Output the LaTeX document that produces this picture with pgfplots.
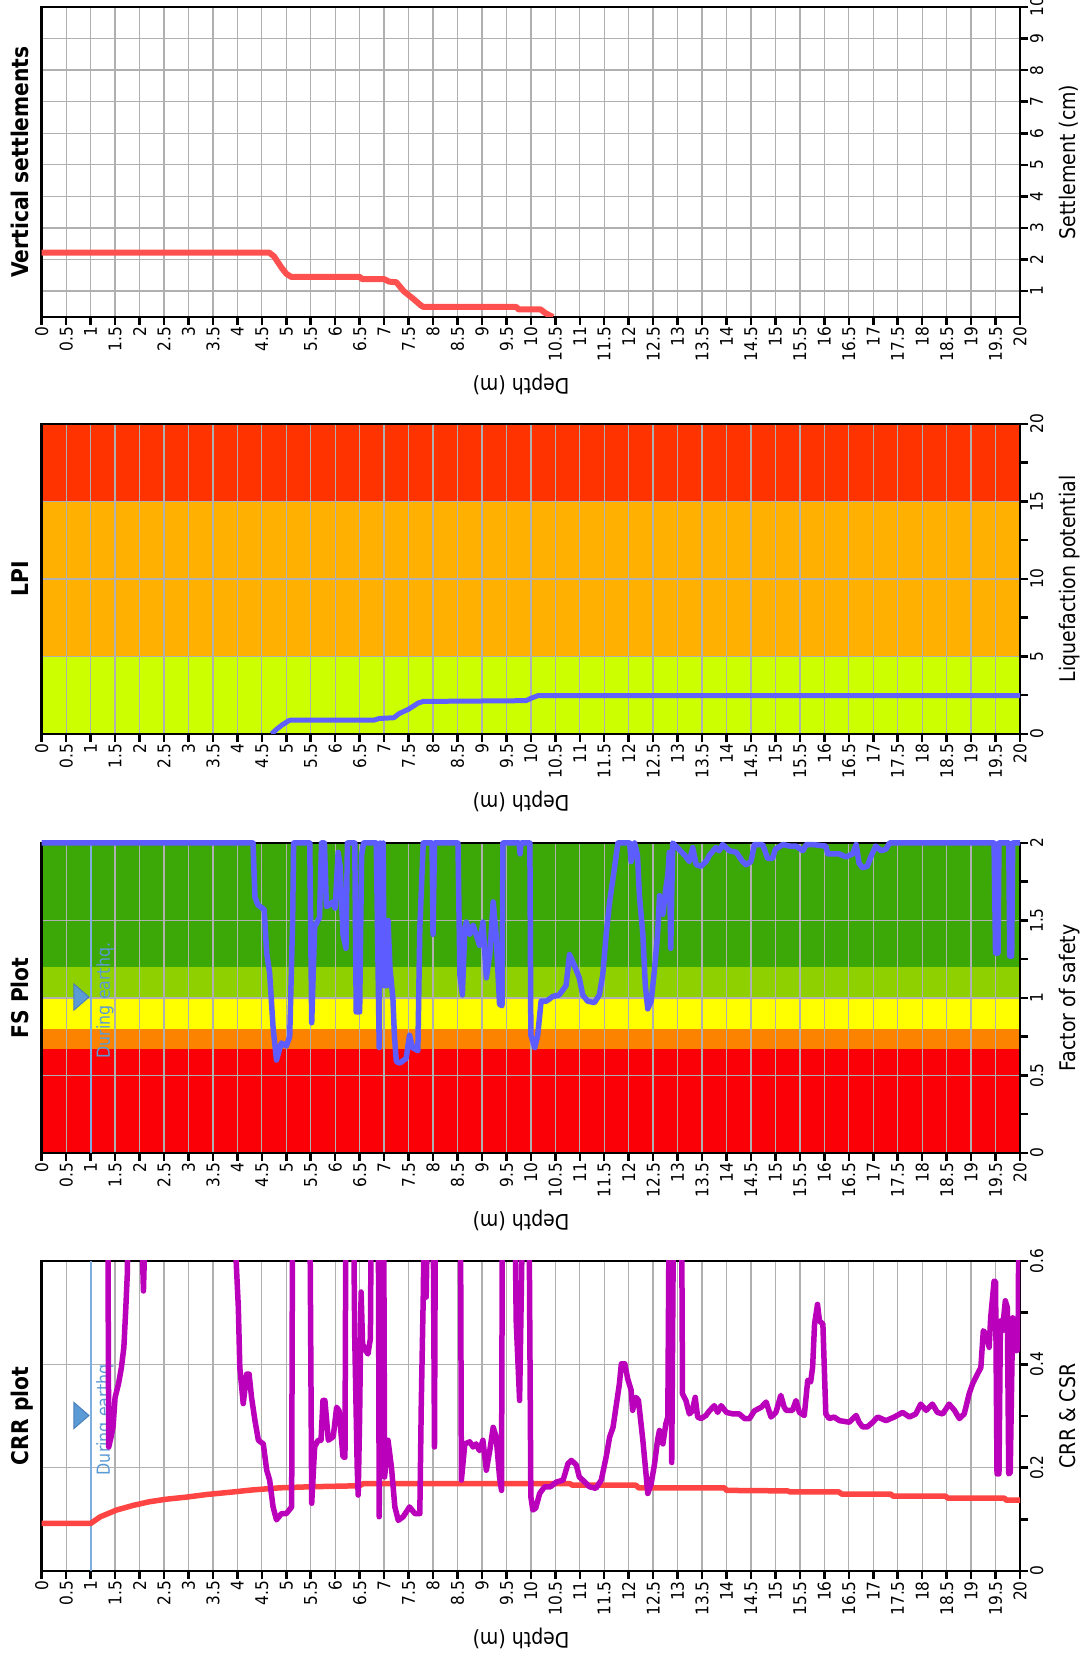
\documentclass[border=0pt]{standalone}
\usepackage{fontspec}
\setmainfont{DejaVu Sans}[FakeStretch=0.88]
\usepackage{pgfplots}
\pgfplotsset{compat=1.18}
\definecolor{setred}{HTML}{FF5050}
\definecolor{lpired}{HTML}{FF3300}
\definecolor{lpiorange}{HTML}{FFB000}
\definecolor{lpiyg}{HTML}{CCFF00}
\definecolor{lpiblue}{HTML}{6060FF}
\definecolor{fsred}{HTML}{FC0007}
\definecolor{fsorange}{HTML}{FC8300}
\definecolor{fsyellow}{HTML}{FFFF00}
\definecolor{fslgreen}{HTML}{8FD100}
\definecolor{fsgreen}{HTML}{3CA808}
\definecolor{fsblue}{HTML}{5C5CFF}
\definecolor{crrmag}{HTML}{BB00BB}
\definecolor{csrred}{HTML}{FF4444}
\definecolor{tri}{HTML}{5B9BD5}
\definecolor{triedge}{HTML}{4A7EBB}
\definecolor{wline}{HTML}{7DAEDE}
\definecolor{gridc}{HTML}{B0B0B0}
\newcommand\ticksize{\fontsize{17.5}{17.5}\selectfont}
\newcommand\labsize{\fontsize{21.5}{22}\selectfont}
\newcommand\titsize{\fontsize{23}{24}\selectfont\bfseries}
\pgfplotsset{
 panel/.style={
  set layers,
  width=978.3pt, height=310pt, scale only axis,
  xmin=0, xmax=20,
  xtick={0,0.5,...,20},
  xticklabels={0,0.5,1,1.5,2,2.5,3,3.5,4,4.5,5,5.5,6,6.5,7,7.5,8,8.5,9,9.5,10,10.5,11,11.5,12,12.5,13,13.5,14,14.5,15,15.5,16,16.5,17,17.5,18,18.5,19,19.5,20},
  xtick pos=left, ytick pos=right, yticklabel pos=right,
  tick align=outside,
  major tick length=8pt, minor tick length=8pt,
  major tick style={black, line width=2.5pt},
  minor tick style={black, line width=2.5pt},
  xmajorgrids, ymajorgrids,
  major grid style={color=gridc, line width=1.3pt},
  axis line style={line width=2.5pt, black},
  /pgf/number format/assume math mode=true,
  tick label style={font=\ticksize},
  xticklabel style={rotate=90, anchor=east, inner sep=2pt},
  yticklabel style={rotate=90, anchor=north, inner sep=2pt},
  xlabel={Depth (m)},
  every axis x label/.style={at={(rel axis cs:0.49,0)}, yshift=-67pt, rotate=180, anchor=center, font=\labsize},
  every axis y label/.style={at={(rel axis cs:1,0.5)}, xshift=55pt, rotate=90, anchor=base, font=\labsize},
  every axis title/.style={at={(rel axis cs:0,0.5)}, xshift=-13.4pt, rotate=90, anchor=base, font=\titsize},
 }
}
\begin{document}
\begin{tikzpicture}
% ---------------- Vertical settlements
\begin{axis}[panel, at={(41.7pt,1341pt)}, anchor=south west,
  ymin=0.18, ymax=10, ytick={1,2,...,10},
  ylabel={Settlement (cm)}, title={Vertical settlements}]
\addplot[setred, line width=6pt, mark=none, line join=round] coordinates {
(0,2.22) (4.65,2.22) (4.75,2.1) (4.9,1.75) (5.0,1.55) (5.1,1.45) (6.5,1.45) (6.55,1.38) (7.0,1.38) (7.1,1.3) (7.25,1.28)
(7.4,1.0) (7.6,0.75) (7.75,0.55) (7.8,0.5) (9.7,0.5) (9.75,0.42) (10.2,0.42) (10.3,0.3) (10.45,0.18)};
\end{axis}
% ---------------- LPI
\begin{axis}[panel, at={(41.7pt,924pt)}, anchor=south west,
  ymin=0, ymax=20, ytick={0,5,10,15,20}, minor ytick={2.5,7.5,12.5,17.5},
  ylabel={Liquefaction potential}, title={LPI}]
\addplot[draw=none, fill=lpired, on layer=axis background] coordinates {(0,20) (20,20)} \closedcycle;
\addplot[draw=none, fill=lpiorange, on layer=axis background] coordinates {(0,15) (20,15)} \closedcycle;
\addplot[draw=none, fill=lpiyg, on layer=axis background] coordinates {(0,5) (20,5)} \closedcycle;
\addplot[lpiblue, line width=5pt, mark=none, line join=round] coordinates {
(4.7,0) (4.8,0.3) (4.9,0.55) (5.05,0.86) (5.1,0.9) (6.8,0.9) (6.9,1.0) (7.2,1.05) (7.3,1.3) (7.5,1.6) (7.7,2.0) (7.8,2.1)
(9.9,2.15) (10.0,2.3) (10.15,2.48) (20,2.48)};
\end{axis}
% ---------------- FS
\begin{axis}[panel, at={(41.7pt,505pt)}, anchor=south west, clip=false,
  ymin=0, ymax=2, ytick={0,0.5,1,1.5,2}, yticklabels={0,0.5,1,1.5,2}, minor ytick={0.25,0.75,1.25,1.75},
  ylabel={Factor of safety}, title={FS Plot}]
\addplot[draw=none, fill=fsgreen, on layer=axis background] coordinates {(0,2) (20,2)} \closedcycle;
\addplot[draw=none, fill=fslgreen, on layer=axis background] coordinates {(0,1.2) (20,1.2)} \closedcycle;
\addplot[draw=none, fill=fsyellow, on layer=axis background] coordinates {(0,1.0) (20,1.0)} \closedcycle;
\addplot[draw=none, fill=fsorange, on layer=axis background] coordinates {(0,0.8) (20,0.8)} \closedcycle;
\addplot[draw=none, fill=fsred, on layer=axis background] coordinates {(0,0.67) (20,0.67)} \closedcycle;
\addplot[wline, line width=2pt, mark=none] coordinates {(1,0) (1,2)};
\addplot[only marks, mark=triangle*, mark size=10pt, mark options={rotate=-90, xscale=1.5, fill=tri, draw=triedge, line width=1pt}] coordinates {(0.762,1.006)};
\node[rotate=90, anchor=base west, inner sep=0pt, text=tri, font=\fontsize{18}{18}\selectfont] at (axis cs:1.395,0.61) {During earthq.};
\addplot[fsblue, line width=5.5pt, mark=none, line join=round] coordinates {
(0,2) (4.32,2) (4.36,1.65) (4.42,1.6) (4.55,1.57) (4.57,1.45) (4.6,1.29) (4.66,1.16) (4.73,0.81) (4.8,0.6) (4.9,0.71)
(5.0,0.69) (5.07,0.75) (5.13,1.5) (5.15,2) (5.48,2) (5.52,0.84) (5.58,1.46) (5.68,1.52) (5.72,2) (5.78,2) (5.82,1.59)
(5.88,1.6) (5.95,1.62) (6.0,1.58) (6.06,1.94) (6.1,1.85) (6.16,1.41) (6.22,1.32) (6.25,2) (6.40,2) (6.43,0.91) (6.5,0.91)
(6.54,1.92) (6.58,2) (6.84,2) (6.9,0.68) (6.92,2) (6.96,1.2) (6.98,2) (7.0,1.08) (7.06,1.08) (7.08,1.5) (7.12,1.19)
(7.18,1.0) (7.21,0.76) (7.25,0.59) (7.32,0.58) (7.45,0.61) (7.52,0.76) (7.58,0.68) (7.69,0.66) (7.73,1.45) (7.8,2)
(7.98,2) (8.0,1.41) (8.03,2) (8.51,2) (8.55,1.15) (8.6,1.02) (8.65,1.45) (8.68,1.49) (8.75,1.41) (8.82,1.47) (8.88,1.41)
(8.95,1.34) (9.02,1.49) (9.09,1.13) (9.16,1.28) (9.23,1.62) (9.29,1.41) (9.36,0.96) (9.41,0.95) (9.43,2) (9.76,2)
(9.78,1.93) (9.8,2) (9.98,2) (10.0,0.76) (10.08,0.68) (10.14,0.76) (10.21,0.98) (10.32,0.98) (10.45,1.01) (10.58,1.02)
(10.72,1.08) (10.79,1.28) (10.89,1.21) (10.99,1.13) (11.06,1.02) (11.16,0.98) (11.3,0.97) (11.4,1.02) (11.47,1.15)
(11.54,1.41) (11.61,1.62) (11.71,1.84) (11.78,2) (12.02,2) (12.05,1.88) (12.12,2) (12.18,1.92) (12.22,1.66) (12.29,1.41)
(12.34,1.08) (12.39,0.93) (12.46,0.98) (12.53,1.19) (12.59,1.41) (12.63,1.66) (12.7,1.54) (12.76,1.71) (12.8,1.79)
(12.83,1.94) (12.86,1.32) (12.9,2) (13.15,1.92) (13.24,1.88) (13.31,1.97) (13.38,1.86) (13.48,1.85) (13.58,1.88)
(13.65,1.92) (13.78,1.97) (13.85,1.95) (13.92,1.99) (14.06,1.95) (14.2,1.94) (14.33,1.88) (14.4,1.86) (14.5,1.88)
(14.57,1.99) (14.74,1.99) (14.84,1.9) (14.94,1.9) (15.0,1.96) (15.15,1.99) (15.3,1.98) (15.42,1.98) (15.56,1.95)
(15.63,1.99) (15.76,1.99) (16.03,1.98) (16.07,1.93) (16.3,1.93) (16.44,1.91) (16.58,1.93) (16.65,1.99) (16.71,1.87)
(16.78,1.84) (16.88,1.85) (16.95,1.91) (17.05,1.98) (17.16,1.95) (17.26,1.96) (17.33,2) (19.47,2) (19.5,1.29)
(19.55,1.29) (19.57,2) (19.77,2) (19.79,1.27) (19.83,1.27) (19.85,2) (20,2)};
\end{axis}
% ---------------- CRR
\begin{axis}[panel, at={(41.7pt,87pt)}, anchor=south west,
  ymin=0, ymax=0.6, ytick={0,0.2,0.4,0.6}, yticklabels={0,0.2,0.4,0.6}, minor ytick={0.1,0.3,0.5},
  ylabel={CRR \& CSR}, title={CRR plot}]
\addplot[wline, line width=2pt, mark=none] coordinates {(1,0) (1,0.6)};
\addplot[only marks, mark=triangle*, mark size=10pt, mark options={rotate=-90, xscale=1.5, fill=tri, draw=triedge, line width=1pt}] coordinates {(0.762,0.301)};
\node[rotate=90, anchor=base west, inner sep=0pt, text=tri, font=\fontsize{18}{18}\selectfont] at (axis cs:1.395,0.185) {During earthq.};
\addplot[csrred, line width=5.5pt, mark=none, line join=round] coordinates {
(0,0.092) (1.0,0.092) (1.2,0.105) (1.53,0.118) (1.87,0.127) (2.2,0.134) (2.55,0.139) (2.96,0.143) (3.37,0.148) (3.91,0.153)
(4.32,0.157) (4.87,0.161) (5.48,0.163) (6.5,0.165) (6.57,0.169) (10.8,0.169) (10.85,0.166) (12.15,0.166) (12.2,0.161)
(13.96,0.161) (14.0,0.156) (15.25,0.155) (15.3,0.153) (16.3,0.153) (16.35,0.149) (17.36,0.149) (17.4,0.145) (18.48,0.145)
(18.52,0.141) (19.68,0.141) (19.72,0.137) (20,0.137)};
\addplot[crrmag, line width=5.5pt, mark=none, line join=round] coordinates {
(0,0.75) (1.35,0.75) (1.37,0.24) (1.42,0.26) (1.46,0.28) (1.5,0.336) (1.57,0.362) (1.63,0.394) (1.68,0.433) (1.72,0.51)
(1.75,0.574) (1.78,0.75) (2.02,0.75) (2.08,0.542) (2.14,0.75) (3.9,0.75) (4.0,0.55) (4.02,0.51) (4.05,0.394) (4.12,0.324)
(4.19,0.381) (4.24,0.381) (4.29,0.336) (4.36,0.291) (4.43,0.253) (4.53,0.246) (4.6,0.195) (4.66,0.176) (4.73,0.124)
(4.8,0.099) (4.9,0.111) (5.0,0.111) (5.11,0.124) (5.13,0.75) (5.48,0.75) (5.52,0.131) (5.58,0.24) (5.65,0.253)
(5.71,0.253) (5.75,0.33) (5.79,0.33) (5.86,0.253) (5.96,0.26) (6.03,0.317) (6.08,0.31) (6.16,0.221) (6.2,0.22)
(6.22,0.75) (6.37,0.75) (6.4,0.45) (6.45,0.2) (6.47,0.147) (6.5,0.3) (6.53,0.54) (6.56,0.44) (6.6,0.43) (6.67,0.42)
(6.72,0.45) (6.74,0.75) (6.88,0.75) (6.9,0.105) (6.92,0.75) (6.99,0.75) (7.01,0.182) (7.08,0.253) (7.15,0.201)
(7.22,0.124) (7.29,0.098) (7.39,0.105) (7.52,0.124) (7.63,0.111) (7.73,0.111) (7.76,0.324) (7.8,0.53) (7.83,0.75)
(7.86,0.53) (7.9,0.75) (8.0,0.75) (8.03,0.24) (8.05,0.75) (8.56,0.75) (8.58,0.176) (8.65,0.246) (8.75,0.25) (8.82,0.24)
(8.88,0.246) (8.95,0.233) (9.02,0.253) (9.09,0.195) (9.16,0.233) (9.23,0.278) (9.29,0.26) (9.36,0.182) (9.4,0.156)
(9.42,0.75) (9.67,0.75) (9.7,0.484) (9.77,0.33) (9.8,0.51) (9.84,0.75) (9.96,0.75) (10.0,0.144) (10.04,0.118)
(10.1,0.122) (10.18,0.15) (10.28,0.163) (10.4,0.163) (10.52,0.172) (10.66,0.176) (10.76,0.208) (10.83,0.214)
(10.93,0.205) (10.99,0.182) (11.06,0.176) (11.2,0.163) (11.33,0.16) (11.44,0.176) (11.54,0.221) (11.61,0.259)
(11.68,0.278) (11.74,0.317) (11.81,0.362) (11.85,0.401) (11.92,0.401) (11.98,0.372) (12.05,0.35) (12.08,0.311)
(12.15,0.336) (12.2,0.33) (12.29,0.253) (12.36,0.182) (12.39,0.15) (12.46,0.169) (12.53,0.208) (12.59,0.253)
(12.63,0.272) (12.7,0.246) (12.76,0.285) (12.8,0.298) (12.83,0.75) (12.86,0.75) (12.88,0.21) (12.92,0.75) (13.08,0.75)
(13.1,0.343) (13.17,0.33) (13.24,0.304) (13.3,0.31) (13.36,0.336) (13.41,0.298) (13.48,0.295) (13.58,0.301) (13.65,0.31)
(13.75,0.32) (13.82,0.307) (13.89,0.32) (14.0,0.307) (14.13,0.304) (14.26,0.304) (14.37,0.295) (14.47,0.295) (14.57,0.31)
(14.71,0.317) (14.81,0.327) (14.91,0.298) (15.01,0.307) (15.11,0.34) (15.18,0.317) (15.22,0.311) (15.35,0.311)
(15.42,0.33) (15.49,0.307) (15.59,0.301) (15.66,0.369) (15.72,0.366) (15.76,0.394) (15.8,0.478) (15.86,0.516)
(15.9,0.484) (15.97,0.478) (16.03,0.304) (16.1,0.295) (16.2,0.298) (16.31,0.291) (16.51,0.288) (16.65,0.301)
(16.71,0.288) (16.78,0.279) (16.88,0.279) (16.99,0.288) (17.09,0.298) (17.26,0.291) (17.43,0.298) (17.6,0.307)
(17.74,0.298) (17.87,0.304) (17.97,0.323) (18.08,0.311) (18.21,0.323) (18.31,0.307) (18.42,0.304) (18.55,0.323)
(18.66,0.311) (18.76,0.295) (18.86,0.304) (18.96,0.343) (19.03,0.362) (19.13,0.381) (19.2,0.394) (19.25,0.465)
(19.3,0.459) (19.37,0.433) (19.4,0.49) (19.47,0.561) (19.5,0.56) (19.53,0.188) (19.57,0.188) (19.6,0.484) (19.64,0.465)
(19.7,0.523) (19.74,0.51) (19.77,0.188) (19.8,0.19) (19.85,0.49) (19.88,0.471) (19.93,0.426) (19.96,0.43) (19.98,0.75)
(20,0.75)};
\end{axis}
\pgfresetboundingbox
\useasboundingbox (0,0) rectangle (1081pt,1658pt);
\end{tikzpicture}
\end{document}
